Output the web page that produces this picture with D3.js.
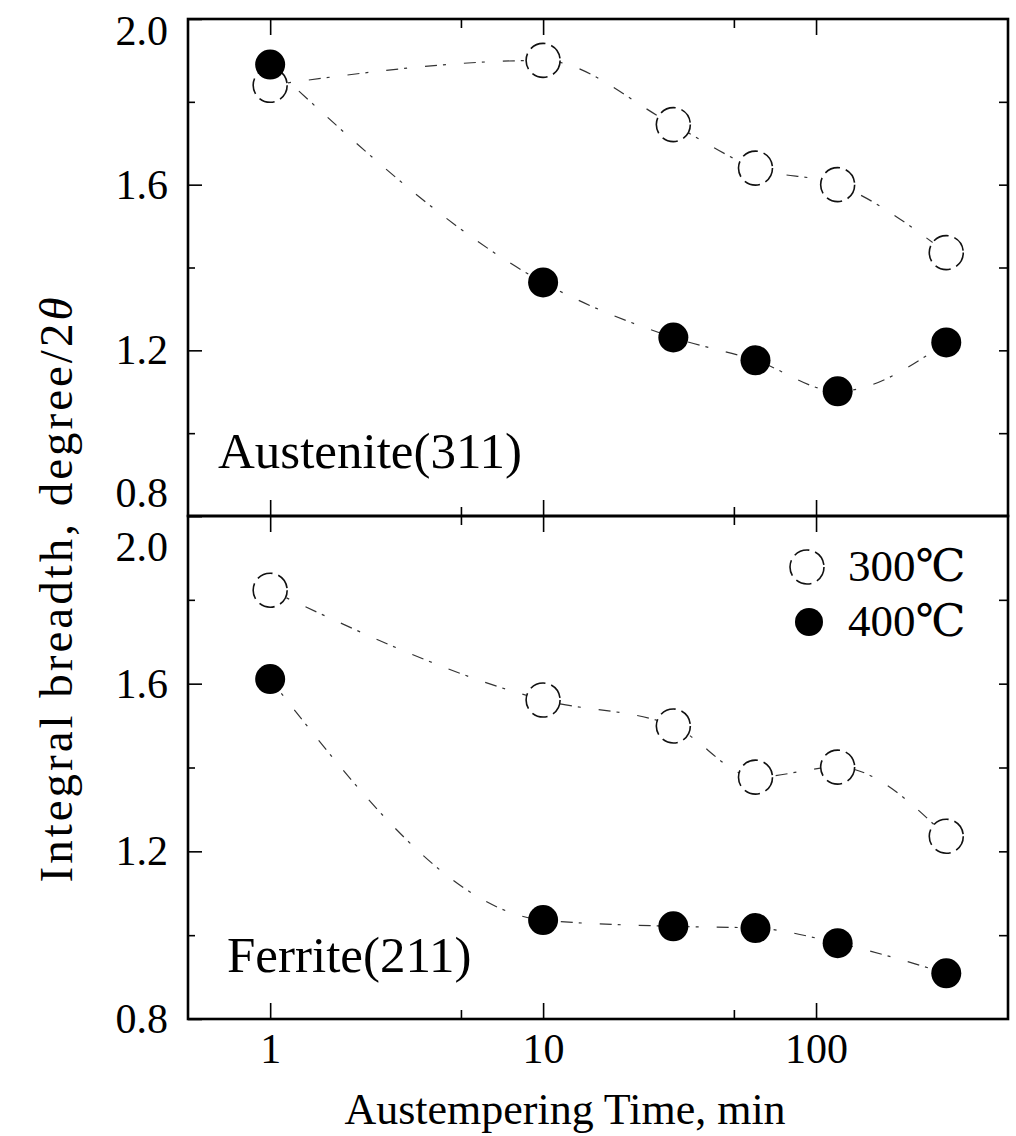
<!DOCTYPE html>
<html><head><meta charset="utf-8">
<script src="https://cdn.jsdelivr.net/npm/d3@7"></script>
<style>body{margin:0;background:#fff}</style>
</head><body><svg id="chart" width="1016" height="1136"></svg>
<script>
// ---- data ----
const times = [1, 10, 30, 60, 120, 300];
const austenite300 = [1.84, 1.90, 1.745, 1.64, 1.60, 1.436];
const austenite400 = [1.89, 1.364, 1.231, 1.176, 1.101, 1.219];
const ferrite300 = [1.823, 1.561, 1.499, 1.377, 1.401, 1.236];
const ferrite400 = [1.611, 1.036, 1.021, 1.017, 0.981, 0.909];
const seriesNames = ["300℃", "400℃"];
const panelNames = ["Austenite(311)", "Ferrite(211)"];
const yTickLabels = [0.8, 1.2, 1.6, 2.0];
const yMinorTicks = [1.0, 1.4, 1.8];
const yRightTicks = [1.0, 1.2, 1.4, 1.6, 1.8];
const xTickLabels = [1, 10, 100];
const xMinorTicks = [5, 50];
const xTitle = "Austempering Time, min";
const yTitleMain = "Integral breadth, degree/2";
const yTitleSym = "θ";

// ---- layout ----
const svg = d3.select("#chart");
const FONT = "'Liberation Serif', 'DejaVu Serif', serif";
const L = 188, R = 1008;
const x = d3.scaleLog().domain([0.5, 505]).range([L, R]);

const panels = [
  {name: panelNames[0], top: 19, bottom: 516, s: [austenite300, austenite400], offs: {"2.0": 12, "0.8": -23}, lx: 218, ly: 468, xlabels: false},
  {name: panelNames[1], top: 516, bottom: 1019, s: [ferrite300, ferrite400], offs: {"2.0": 31}, lx: 227, ly: 972, xlabels: true}
];

function clean(g){ g.select(".domain").remove(); g.selectAll(".tick line").attr("stroke","#000").attr("stroke-width",1.6); }

panels.forEach((p, pi) => {
  const y = d3.scaleLinear().domain([0.8, 2.0]).range([p.bottom, p.top]);
  const g = svg.append("g");

  // left major ticks + labels
  const gl = g.append("g").attr("transform", `translate(${L},0)`)
    .call(d3.axisLeft(y).tickValues(yTickLabels).tickSize(-14).tickPadding(20).tickFormat(d3.format(".1f")));
  clean(gl);
  gl.selectAll("text").attr("font-family", FONT).attr("font-size", 42).attr("fill", "#000")
    .attr("transform", d => { const k = d3.format(".1f")(d); return p.offs[k] ? `translate(0,${p.offs[k]})` : null; });
  // left minor
  clean(g.append("g").attr("transform", `translate(${L},0)`)
    .call(d3.axisLeft(y).tickValues(yMinorTicks).tickSize(-7).tickFormat("")));
  // right ticks
  clean(g.append("g").attr("transform", `translate(${R},0)`)
    .call(d3.axisRight(y).tickValues(yRightTicks).tickSize(-9).tickFormat("")));

  // bottom ticks
  const gb = g.append("g").attr("transform", `translate(0,${p.bottom})`)
    .call(d3.axisBottom(x).tickValues(xTickLabels).tickSize(-16).tickPadding(14)
      .tickFormat(p.xlabels ? d3.format("d") : ""));
  clean(gb);
  gb.selectAll("text").attr("font-family", FONT).attr("font-size", 42).attr("fill", "#000");
  clean(g.append("g").attr("transform", `translate(0,${p.bottom})`)
    .call(d3.axisBottom(x).tickValues(xMinorTicks).tickSize(-9).tickFormat("")));
  // top ticks
  clean(g.append("g").attr("transform", `translate(0,${p.top})`)
    .call(d3.axisTop(x).tickValues(xTickLabels).tickSize(-16).tickFormat("")));
  clean(g.append("g").attr("transform", `translate(0,${p.top})`)
    .call(d3.axisTop(x).tickValues(xMinorTicks).tickSize(-9).tickFormat("")));

  // frame
  g.append("rect").attr("x", L).attr("y", p.top).attr("width", R - L).attr("height", p.bottom - p.top)
    .attr("fill", "none").attr("stroke", "#000").attr("stroke-width", 2.6);

  // trend lines (faint, broken)
  const line = d3.line().x(d => x(d.t)).y(d => y(d.v)).curve(d3.curveMonotoneX);
  p.s.forEach(vals => {
    const pts = times.map((t, i) => ({t, v: vals[i]}));
    g.append("path").attr("d", line(pts)).attr("fill", "none")
      .attr("stroke", "#333").attr("stroke-width", 1.2).attr("stroke-dasharray", "12,6,3,18");
  });
  // open circles (300)
  g.selectAll(".o").data(times.map((t, i) => ({t, v: p.s[0][i]}))).join("circle")
    .attr("cx", d => x(d.t)).attr("cy", d => y(d.v)).attr("r", 17)
    .attr("fill", "#fff").attr("stroke", "#111").attr("stroke-width", 1.6).attr("stroke-dasharray", "16,6");
  // filled circles (400)
  g.selectAll(".f").data(times.map((t, i) => ({t, v: p.s[1][i]}))).join("circle")
    .attr("cx", d => x(d.t)).attr("cy", d => y(d.v)).attr("r", 15).attr("fill", "#000");

  // panel label
  g.append("text").attr("x", p.lx).attr("y", p.ly).attr("font-family", FONT).attr("font-size", 51)
    .attr("fill", "#000").text(p.name);
});

// legend
const leg = svg.append("g");
seriesNames.forEach((nm, i) => {
  const cy = 567 + i * 55;
  if (i === 0) {
    leg.append("circle").attr("cx", 807).attr("cy", cy).attr("r", 17).attr("fill", "#fff")
      .attr("stroke", "#111").attr("stroke-width", 1.6).attr("stroke-dasharray", "16,6");
  } else {
    leg.append("circle").attr("cx", 809).attr("cy", cy).attr("r", 14).attr("fill", "#000");
  }
  leg.append("text").attr("x", 848).attr("y", cy + 14).attr("font-family", FONT).attr("font-size", 45)
    .attr("fill", "#000").text(nm);
});

// axis titles
svg.append("text").attr("x", 565).attr("y", 1124).attr("text-anchor", "middle")
  .attr("font-family", FONT).attr("font-size", 44).attr("fill", "#000").text(xTitle);
const yt = svg.append("text").attr("transform", "translate(72,590) rotate(-90)").attr("text-anchor", "middle")
  .attr("font-family", FONT).attr("font-size", 47).attr("fill", "#000")
  .attr("textLength", 585).attr("lengthAdjust", "spacing");
yt.append("tspan").text(yTitleMain);
yt.append("tspan").attr("font-style", "italic").text(yTitleSym);
</script>
</body></html>
